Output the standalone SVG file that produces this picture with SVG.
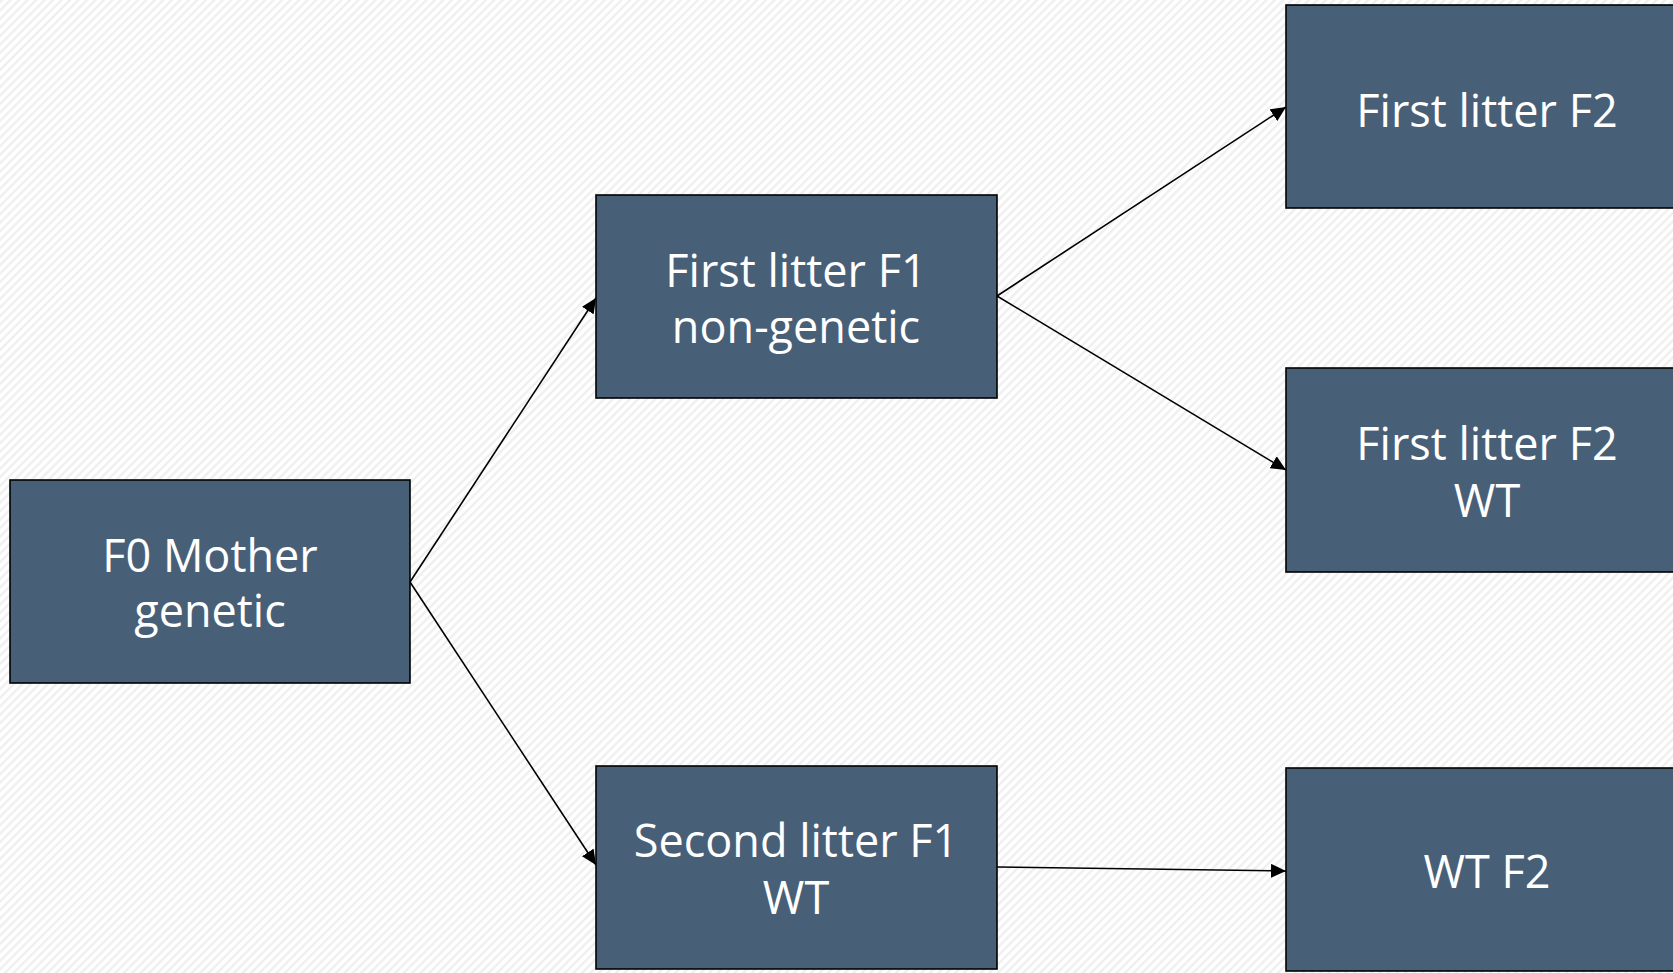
<svg xmlns="http://www.w3.org/2000/svg" width="1673" height="973" viewBox="0 0 1673 973">
  <defs>
    <pattern id="hatch" width="6" height="6" patternUnits="userSpaceOnUse" patternTransform="rotate(45)">
      <rect width="6" height="6" fill="#ffffff"/>
      <line x1="1.5" y1="0" x2="1.5" y2="6" stroke="#ececec" stroke-width="2"/>
    </pattern>
    <marker id="arrow" markerUnits="userSpaceOnUse" markerWidth="16" markerHeight="14" refX="15" refY="7" orient="auto">
      <path d="M0,0 L15,7 L0,14 Z" fill="#000"/>
    </marker>
    <style>
      .box { fill: #485f78; stroke: #000; stroke-width: 1.6; }
      .label { fill: #ffffff; font-family: "Open Sans", "Noto Sans", "Liberation Sans", sans-serif; font-size: 45px; text-anchor: middle; }
      .edge { stroke: #000; stroke-width: 1.6; fill: none; marker-end: url(#arrow); }
    </style>
  </defs>

  <rect width="1673" height="973" fill="url(#hatch)"/>

  <g id="connectors">
    <line class="edge" x1="410" y1="582" x2="596" y2="298"/>
    <line class="edge" x1="410" y1="582" x2="596" y2="865"/>
    <line class="edge" x1="997" y1="296" x2="1286" y2="107"/>
    <line class="edge" x1="997" y1="296" x2="1286" y2="470"/>
    <line class="edge" x1="997" y1="867" x2="1286" y2="871"/>
  </g>

  <g id="f0-mother">
    <rect class="box" x="10" y="480" width="400" height="203"/>
    <text class="label" x="210" y="572">F0 Mother</text>
    <text class="label" x="210" y="627">genetic</text>
  </g>

  <g id="f1-first-litter">
    <rect class="box" x="596" y="195" width="401" height="203"/>
    <text class="label" x="796" y="287">First litter F1</text>
    <text class="label" x="796" y="343">non-genetic</text>
  </g>

  <g id="f1-second-litter">
    <rect class="box" x="596" y="766" width="401" height="203"/>
    <text class="label" x="796" y="857">Second litter F1</text>
    <text class="label" x="796" y="914">WT</text>
  </g>

  <g id="f2-first-litter">
    <rect class="box" x="1286" y="5" width="402" height="203"/>
    <text class="label" x="1487" y="127">First litter F2</text>
  </g>

  <g id="f2-first-litter-wt">
    <rect class="box" x="1286" y="368" width="402" height="204"/>
    <text class="label" x="1487" y="460">First litter F2</text>
    <text class="label" x="1487" y="517">WT</text>
  </g>

  <g id="f2-wt">
    <rect class="box" x="1286" y="768" width="402" height="203"/>
    <text class="label" x="1487" y="888">WT F2</text>
  </g>
</svg>
